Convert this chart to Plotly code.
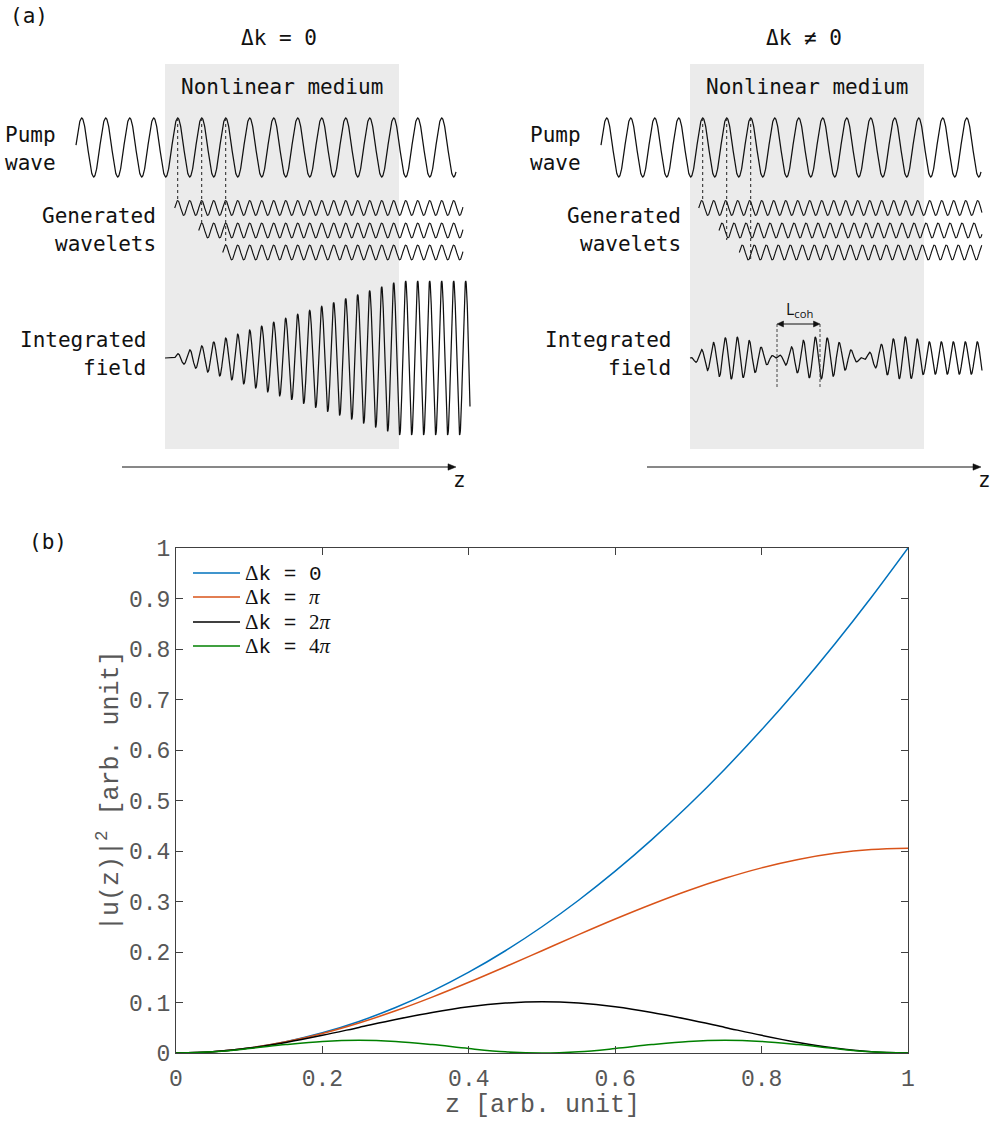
import numpy as np
import plotly.graph_objects as go

# ---------------------------------------------------------------------------
# Panel (b) data: normalised SHG intensity |u(z)|^2 along the crystal
# ---------------------------------------------------------------------------
z = [0.00, 0.05, 0.10, 0.15, 0.20, 0.25, 0.30, 0.35, 0.40, 0.45, 0.50,
     0.55, 0.60, 0.65, 0.70, 0.75, 0.80, 0.85, 0.90, 0.95, 1.00]
u2_dk_0 = [0.000, 0.0025, 0.010, 0.0225, 0.040, 0.0625, 0.090, 0.1225, 0.160, 0.2025, 0.250,
           0.3025, 0.360, 0.4225, 0.490, 0.5625, 0.640, 0.7225, 0.810, 0.9025, 1.000]
u2_dk_pi = [0.000, 0.0025, 0.0099, 0.0221, 0.0387, 0.0594, 0.0835, 0.1107, 0.1400, 0.1709, 0.2026,
            0.2344, 0.2653, 0.2946, 0.3218, 0.3459, 0.3666, 0.3832, 0.3954, 0.4028, 0.4053]
u2_dk_2pi = [0.000, 0.0025, 0.0097, 0.0209, 0.0350, 0.0507, 0.0663, 0.0804, 0.0916, 0.0988, 0.1013,
             0.0988, 0.0916, 0.0804, 0.0663, 0.0507, 0.0350, 0.0209, 0.0097, 0.0025, 0.000]
u2_dk_4pi = [0.000, 0.0024, 0.0088, 0.0166, 0.0229, 0.0253, 0.0229, 0.0166, 0.0088, 0.0024, 0.000,
             0.0024, 0.0088, 0.0166, 0.0229, 0.0253, 0.0229, 0.0166, 0.0088, 0.0024, 0.000]

series = [u2_dk_0, u2_dk_pi, u2_dk_2pi, u2_dk_4pi]
series_names = ["Δk = 0", "Δk = π", "Δk = 2π", "Δk = 4π"]
legend_values = ["0", "<i>π</i>", "2<i>π</i>", "4<i>π</i>"]
series_colors = ["#0072BD", "#D95319", "#000000", "#008000"]

x_ticks = [0, 0.2, 0.4, 0.6, 0.8, 1]
y_ticks = [0, 0.1, 0.2, 0.3, 0.4, 0.5, 0.6, 0.7, 0.8, 0.9, 1]

# ---------------------------------------------------------------------------
# Page / layout geometry (pixels)
# ---------------------------------------------------------------------------
PAGE_W, PAGE_H = 993, 1122
PLOT_B = dict(left=176, right=908, top=548, bottom=1053)
SHIFT = 525                     # horizontal offset of the Δk ≠ 0 sketch

MONO_A = "DejaVu Sans Mono"
MONO_B = "Liberation Mono"
SERIF = "Liberation Serif"
INK = "#111111"


def px_x(p):
    return p / PAGE_W


def px_y(p):
    return 1 - p / PAGE_H


fig = go.Figure()

# ---------------------------------------------------------------------------
# Panel (a): schematic of wavelet build-up (drawn on a pixel-scaled axis)
# ---------------------------------------------------------------------------
medium = dict(x0=165, x1=399, y0=64, y1=449)
pump = dict(x0=76, x1=456, peak=81.7, period=24.0, amp=29.5, mid=147.5)
wave_period = 12.0
wave_amp = 7.5
wave_mid = [208.0, 230.5, 252.5]
field_mid = 358.0
source_peaks = [177.7, 201.7, 225.7]


def wave(x, peak, period):
    return np.cos(2 * np.pi * (x - peak) / period)


def arrow_head(xtip, y, direction, length=8, half=3.2):
    """SVG path of a filled arrow head in x2/y2 units."""
    xb = xtip - direction * length
    return f"M{xtip},{y} L{xb},{y - half} L{xb},{y + half} Z"


def sketch(shift, matched):
    line = dict(color=INK, width=1.25)
    common = dict(mode="lines", xaxis="x2", yaxis="y2", showlegend=False,
                  hoverinfo="skip")

    # medium block
    fig.add_shape(type="rect", xref="x2", yref="y2",
                  x0=medium["x0"] + shift, x1=medium["x1"] + shift,
                  y0=medium["y0"], y1=medium["y1"],
                  fillcolor="#ebebeb", line=dict(width=0), layer="below")

    # pump wave
    xp = np.arange(pump["x0"], pump["x1"] + 0.01, 0.25)
    yp = pump["mid"] - pump["amp"] * wave(xp, pump["peak"], pump["period"])
    fig.add_trace(go.Scatter(x=xp + shift, y=yp, line=line, **common))

    # generated wavelets
    if matched:
        starts = source_peaks
        end = 463
        drops = [200, 223, 245]
    else:
        starts = [176.7, 197.0, 217.3]
        end = 457
        drops = [200, 240, 262]
    for pk, mid in zip(starts, wave_mid):
        xw = np.arange(pk - wave_period / 4, end + 0.01, 0.25)
        yw = mid - wave_amp * wave(xw, pk, wave_period)
        fig.add_trace(go.Scatter(x=xw + shift, y=yw,
                                 line=dict(color=INK, width=1.1), **common))

    # dotted guides from pump crests
    for pk, yb in zip(source_peaks, drops):
        fig.add_shape(type="line", xref="x2", yref="y2",
                      x0=pk + shift, x1=pk + shift,
                      y0=pump["mid"] - pump["amp"], y1=yb,
                      line=dict(color="#222222", width=1, dash="dot"))

    # integrated field
    if matched:
        xf = np.arange(medium["x0"], 470.01, 0.25)
        ramp = np.clip((xf - medium["x0"]) / (medium["x1"] - medium["x0"]), 0, 1)
        env = 77.0 * ramp
        env[xf < source_peaks[0] - wave_period / 4] = 0
        yf = field_mid - env * wave(xf, source_peaks[0], wave_period)
    else:
        xf = np.arange(medium["x0"], 457.01, 0.25)
        l_beat = 86.0
        xe = np.minimum(xf, medium["x1"])
        env = 21.0 * np.sin(np.pi * (xe - medium["x0"]) / l_beat)
        yf = field_mid - env * wave(xf, 188.3, wave_period)
    fig.add_trace(go.Scatter(x=xf + shift, y=yf, line=line, **common))

    # propagation axis with arrow head
    fig.add_shape(type="line", xref="x2", yref="y2",
                  x0=122 + shift, x1=450 + shift, y0=467, y1=467,
                  line=dict(color=INK, width=1))
    fig.add_shape(type="path", xref="x2", yref="y2",
                  path=arrow_head(456 + shift, 467, +1),
                  fillcolor=INK, line=dict(color=INK, width=0.5))

    txt = dict(xref="x2", yref="y2", showarrow=False,
               font=dict(family=MONO_A, size=21, color=INK), yanchor="middle")
    fig.add_annotation(x=451 + shift, y=480, text="z", xanchor="left", **txt)
    fig.add_annotation(x=281.5 + shift, y=87, text="Nonlinear medium",
                       xanchor="center", **txt)
    fig.add_annotation(x=279 + shift, y=38,
                       text="Δk = 0" if matched else "Δk ≠ 0",
                       xanchor="center", **txt)
    fig.add_annotation(x=3 + shift, y=135, text="Pump", xanchor="left", **txt)
    fig.add_annotation(x=3 + shift, y=163, text="wave", xanchor="left", **txt)
    fig.add_annotation(x=158 + shift, y=216, text="Generated", xanchor="right", **txt)
    fig.add_annotation(x=158 + shift, y=244, text="wavelets", xanchor="right", **txt)
    fig.add_annotation(x=148 + shift, y=340, text="Integrated", xanchor="right", **txt)
    fig.add_annotation(x=148 + shift, y=368, text="field", xanchor="right", **txt)

    if not matched:
        # coherence length marker
        xa, xb = 252, 295
        for xc in (xa, xb):
            fig.add_shape(type="line", xref="x2", yref="y2",
                          x0=xc + shift, x1=xc + shift, y0=324, y1=387,
                          line=dict(color="#444444", width=1, dash="3px,2px"))
        fig.add_shape(type="line", xref="x2", yref="y2",
                      x0=xa + 5 + shift, x1=xb - 5 + shift, y0=324, y1=324,
                      line=dict(color=INK, width=1))
        for tip, d in ((xb + shift, +1), (xa + shift, -1)):
            fig.add_shape(type="path", xref="x2", yref="y2",
                          path=arrow_head(tip, 324, d, length=6.5, half=3),
                          fillcolor=INK, line=dict(color=INK, width=0.5))
        fig.add_annotation(xref="x2", yref="y2", x=274 + shift, y=309,
                           text="L<sub>coh</sub>", showarrow=False,
                           xanchor="center", yanchor="middle",
                           font=dict(family="Open Sans", size=16, color=INK))


sketch(0, True)
sketch(SHIFT, False)

# ---------------------------------------------------------------------------
# Panel (b): curves
# ---------------------------------------------------------------------------
for vals, name, col in zip(series, series_names, series_colors):
    fig.add_trace(go.Scatter(x=z, y=vals, name=name, mode="lines",
                             line=dict(color=col, width=1.5, shape="spline",
                                       smoothing=1.0),
                             showlegend=False, xaxis="x", yaxis="y"))

# legend drawn as line samples plus mixed-font labels
legend_rows = [573, 597, 622, 646]
for row, val, col in zip(legend_rows, legend_values, series_colors):
    fig.add_shape(type="line", xref="paper", yref="paper",
                  x0=px_x(193), x1=px_x(240), y0=px_y(row), y1=px_y(row),
                  line=dict(color=col, width=1.5))
    label = (f'<span style="font-family:{SERIF}">Δ</span>k = '
             + (f'<span style="font-family:{SERIF}">{val}</span>'
                if "π" in val else val))
    fig.add_annotation(xref="paper", yref="paper", x=px_x(244), y=px_y(row),
                       text=label, showarrow=False, xanchor="left",
                       yanchor="middle", borderpad=0,
                       font=dict(family=MONO_B, size=21, color=INK))

axis_col = "#404040"
tick_font = dict(family=MONO_B, size=23, color="#575757")
common_axis = dict(showline=True, linecolor=axis_col, linewidth=1,
                   mirror="ticks", ticks="inside", ticklen=7, tickwidth=1,
                   tickcolor=axis_col, showgrid=False, zeroline=False,
                   tickfont=tick_font, fixedrange=True)

# size comes from the page container (see write_html below)
fig.update_layout(
    autosize=True,
    margin=dict(l=0, r=0, t=0, b=0, autoexpand=False),
    paper_bgcolor="white", plot_bgcolor="rgba(0,0,0,0)",
    showlegend=False,
    xaxis=dict(domain=[px_x(PLOT_B["left"]), px_x(PLOT_B["right"])],
               range=[0, 1], tickvals=x_ticks, anchor="y",
               ticklabelstandoff=4, **common_axis),
    yaxis=dict(domain=[px_y(PLOT_B["bottom"]), px_y(PLOT_B["top"])],
               range=[0, 1], tickvals=y_ticks, anchor="x",
               ticklabelstandoff=0, **common_axis),
    xaxis2=dict(domain=[0, 1], range=[0, PAGE_W], visible=False,
                anchor="y2", fixedrange=True),
    yaxis2=dict(domain=[0, 1], range=[PAGE_H, 0], visible=False,
                anchor="x2", fixedrange=True),
)

# axis titles
title_font = dict(family=MONO_B, size=25, color="#575757")
fig.add_annotation(xref="paper", yref="paper", x=px_x(542), y=px_y(1105),
                   text="z [arb. unit]", showarrow=False, xanchor="center",
                   yanchor="middle", font=title_font)
fig.add_annotation(xref="paper", yref="paper", x=px_x(109), y=px_y(791),
                   text="|u(z)|<sup>2</sup> [arb. unit]", showarrow=False,
                   textangle=-90, xanchor="center", yanchor="middle",
                   font=title_font)

# panel letters
for letter, px, py in (("(a)", 8, 16), ("(b)", 27, 542)):
    fig.add_annotation(xref="paper", yref="paper", x=px_x(px), y=px_y(py),
                       text=letter, showarrow=False, xanchor="left",
                       yanchor="middle",
                       font=dict(family=MONO_A, size=21, color=INK))

# the graph div fills the page exactly
fig.write_html(
    "out.html",
    default_width=f"{PAGE_W}px",
    default_height=f"{PAGE_H}px; margin:0",
)
